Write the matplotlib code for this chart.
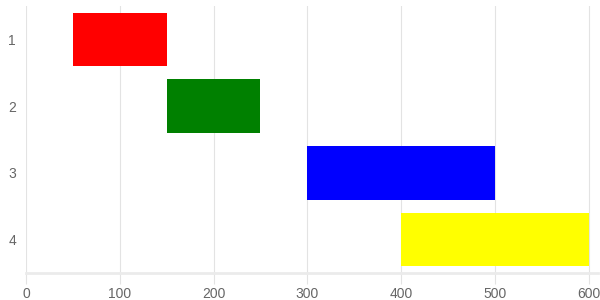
import matplotlib
matplotlib.use("Agg")
from matplotlib import pyplot as plt

categories = ["1", "2", "3", "4"]
starts = [50, 150, 300, 400]
ends = [150, 250, 500, 600]
colors = ["#ff0000", "#008000", "#0000ff", "#ffff00"]
x_ticks = [0, 100, 200, 300, 400, 500, 600]

plt.rcParams["font.family"] = ["Liberation Sans", "DejaVu Sans"]

fig = plt.figure(figsize=(6, 3), dpi=100)
ax = fig.add_axes([26 / 600, 1 - 273 / 300, 572 / 600, 267 / 300])

y_pos = list(range(len(categories)))
widths = [e - s for s, e in zip(starts, ends)]
ax.barh(y_pos, widths, left=starts, height=0.8, color=colors, zorder=3)

ax.set_xlim(0, 610)
ax.set_ylim(len(categories) - 0.5, -0.5)
ax.set_yticks(y_pos, labels=categories)
ax.set_xticks(x_ticks, labels=[str(t) for t in x_ticks])

ax.grid(axis="x", color="#e3e3e3", linewidth=0.8, zorder=0)
for side in ["top", "right", "left"]:
    ax.spines[side].set_visible(False)
ax.spines["bottom"].set_color("#ebebeb")
ax.spines["bottom"].set_linewidth(2)

ax.tick_params(axis="x", colors="#e3e3e3", length=8, width=0.8, labelcolor="#666666",
               labelsize=10, pad=2)
ax.tick_params(axis="y", length=0, labelcolor="#666666", labelsize=10, pad=10)
ax.get_xticklines()[0].set_color("#aaaaaa")
for lbl in ax.get_yticklabels():
    lbl.set_horizontalalignment("center")

fig.savefig("out.png", dpi=100)
